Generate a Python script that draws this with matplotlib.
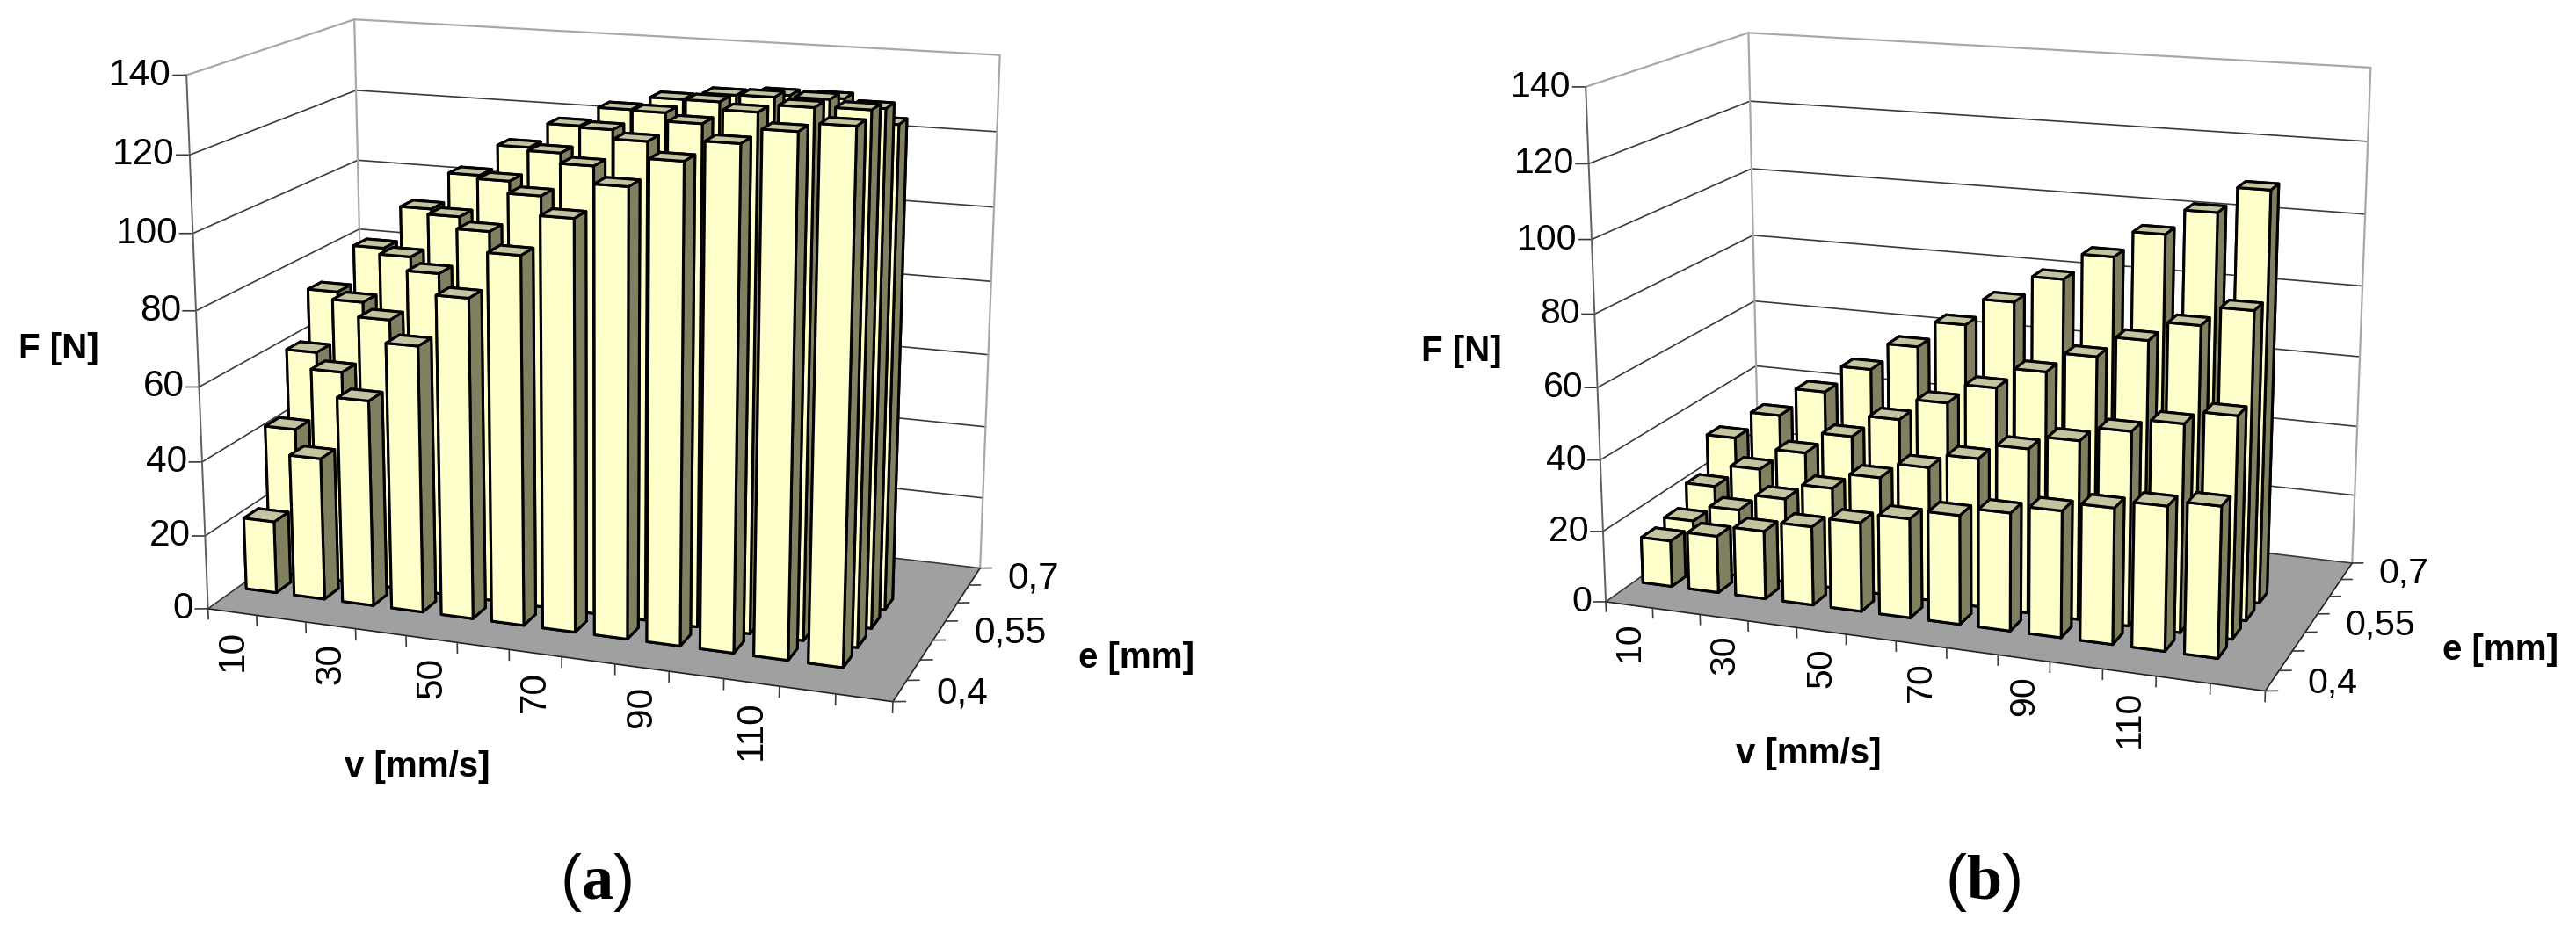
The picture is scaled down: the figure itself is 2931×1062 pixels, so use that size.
import numpy as np
import matplotlib
matplotlib.use('Agg')
import matplotlib.pyplot as plt
from mpl_toolkits.mplot3d import proj3d

plt.rcParams['font.family'] = ['Liberation Sans', 'DejaVu Sans']
plt.rcParams['mathtext.fontset'] = 'custom'
plt.rcParams['mathtext.rm'] = 'Liberation Serif'
plt.rcParams['mathtext.bf'] = 'Liberation Serif:bold'

WIDTH, HEIGHT = 2931, 1062

# the axes have more categories than there are bars: blank ones at the end of v and around the e rows
v_labels = ['10', '', '30', '', '50', '', '70', '', '90', '', '110', '', '']
e_labels = ['0,4', '', '', '0,55', '', '', '0,7']
e_rows = [1, 2, 3, 4]
f_ticks = [0, 20, 40, 60, 80, 100, 120, 140]

force_a_1 = [19.7, 38.6, 55.6, 71.4, 85.1, 97.2, 107.6, 116.5, 123.7, 128.9, 132.7, 134.9]
force_a_2 = [41.0, 58.1, 73.5, 87.0, 99.1, 109.3, 117.9, 125.0, 130.3, 134.0, 136.0, 136.3]
force_a_3 = [58.5, 73.6, 87.1, 98.9, 109.3, 117.6, 124.5, 129.7, 133.3, 135.3, 135.6, 134.2]
force_a_4 = [71.9, 85.2, 97.0, 107.1, 115.5, 122.1, 127.2, 130.7, 132.6, 133.4, 133.4, 127.8]

force_b_1 = [13.1, 16.1, 19.2, 22.1, 24.9, 27.6, 30.2, 32.5, 34.7, 37.1, 39.2, 40.8]
force_b_2 = [14.3, 19.1, 23.9, 28.5, 33.1, 37.5, 41.5, 45.7, 49.4, 53.4, 56.9, 60.5]
force_b_3 = [20.0, 26.6, 32.9, 39.1, 45.4, 51.5, 57.1, 62.9, 68.4, 74.1, 79.4, 84.6]
force_b_4 = [30.2, 38.3, 46.6, 54.5, 62.3, 69.8, 77.4, 84.9, 92.2, 99.4, 106.3, 113.3]

# camera settings fitted to the corners of each chart box
cam_a = dict(elev=15.0908, azim=-70.2261, focal=0.5337, ly=0.5383, lz=0.7682, s=5771.737, tx=684.979, ty=379.336)
cam_b = dict(elev=14.9766, azim=-70.0532, focal=0.5476, ly=0.5415, lz=0.7686, s=5572.861, tx=2260.193, ty=382.339)

BAR_W, BAR_D, X_OFF, Y_OFF = 0.63, 0.6, 0.185, 0.19
DARK = '#3a3a3a'
FRAME = '#A8A8A8'
FACES = ['#808060', '#C4C4A0', '#FFFFCC', '#808060', '#808060', '#808060']

fig = plt.figure(figsize=(WIDTH/100, HEIGHT/100), dpi=100)


def set_limits(ax):
    ax.set_xlim(0, len(v_labels), view_margin=0)
    ax.set_ylim(0, len(e_labels), view_margin=0)
    ax.set_zlim(0, 140, view_margin=0)


def make_axes(cam):
    size = cam['s']*0.185
    left = cam['tx'] - cam['s']*0.095
    top = cam['ty'] - cam['s']*0.09
    ax = fig.add_axes([left/WIDTH, 1-(top+size)/HEIGHT, size/WIDTH, size/HEIGHT],
                      projection='3d', computed_zorder=False)
    ax.set_proj_type('persp', focal_length=cam['focal'])
    ax.view_init(elev=cam['elev'], azim=cam['azim'], roll=0)
    ax.set_box_aspect((1, cam['ly'], cam['lz']))
    set_limits(ax)
    ax.set_axis_off()
    ax.patch.set_alpha(0)
    return ax


def put_text(ax, x, y, z, label, **kwargs):
    xp, yp, _ = proj3d.proj_transform(np.array([x]), np.array([y]), np.array([z]), ax.get_proj())
    ax.text2D(xp[0], yp[0], label, transform=ax.transData, **kwargs)


def draw_panel(cam, rows, fs):
    n_v, n_e = len(v_labels), len(e_labels)
    ax = make_axes(cam)

    X, Y = np.meshgrid([0, n_v], [0, n_e])
    ax.plot_surface(X, Y, np.zeros_like(X, dtype=float), color='#A0A0A0', shade=False, zorder=1)

    for z in f_ticks[:-1]:
        ax.plot([0, 0, n_v], [0, n_e, n_e], [z, z, z], color=DARK, lw=1.2, zorder=2)
    for z in f_ticks:
        ax.plot([-0.22, 0], [-0.08, 0], [z, z], color=DARK, lw=1.2, zorder=2)
        put_text(ax, -0.25, -0.09, z, str(z), ha='right', va='center', fontsize=fs)

    ax.plot([0, 0, n_v, n_v], [0, n_e, n_e, n_e], [140, 140, 140, 0], color=FRAME, lw=1.6, zorder=2)
    ax.plot([0, 0], [n_e, n_e], [0, 140], color=FRAME, lw=1.6, zorder=2)
    ax.plot([0, 0], [0, 0], [0, 140], color='#606060', lw=1.4, zorder=2)
    ax.plot([0, n_v, n_v], [0, 0, n_e], [0, 0, 0], color='#222222', lw=1.2, zorder=3)

    for i in range(n_v + 1):
        ax.plot([i, i], [0, 0], [0, -2.8], color=DARK, lw=1.2, zorder=3)
    for i, lab in enumerate(v_labels):
        if lab:
            put_text(ax, i+0.5, 0, -4.8, lab, rotation=90, ha='center', va='top', fontsize=fs)

    for r in range(n_e + 1):
        ax.plot([n_v, n_v+0.2], [r, r+0.08], [0, 0], color=DARK, lw=1.2, zorder=3)
    for r, lab in enumerate(e_labels):
        if lab:
            put_text(ax, n_v+0.62, r+0.6, 0, lab, ha='left', va='center', fontsize=fs)

    # back rows first, left bars first
    for k in range(len(rows)-1, -1, -1):
        for i, val in enumerate(rows[k]):
            bar = ax.bar3d(i+X_OFF, e_rows[k]+Y_OFF, 0, BAR_W, BAR_D, val, color=FACES,
                           shade=False, edgecolor='black', linewidth=2.2)
            bar.set_zorder(10+(len(rows)-1-k)*100+i)
    set_limits(ax)


def label(x, y, txt, **kwargs):
    fig.text(x/WIDTH, 1-y/HEIGHT, txt, ha='center', va='center', **kwargs)


draw_panel(cam_a, [force_a_1, force_a_2, force_a_3, force_a_4], 30.5)
draw_panel(cam_b, [force_b_1, force_b_2, force_b_3, force_b_4], 29.5)

label(67, 397, 'F [N]', fontsize=29, fontweight='bold')
label(475, 873, 'v [mm/s]', fontsize=29, fontweight='bold')
label(1293, 749, 'e [mm]', fontsize=29, fontweight='bold')
label(1663, 400, 'F [N]', fontsize=29, fontweight='bold')
label(2058, 858, 'v [mm/s]', fontsize=29, fontweight='bold')
label(2845, 740, 'e [mm]', fontsize=29, fontweight='bold')
label(678, 1004, r'($\mathbf{a}$)', fontsize=52)
label(2256, 1004, r'($\mathbf{b}$)', fontsize=52)

fig.savefig('out.png', dpi=100)
